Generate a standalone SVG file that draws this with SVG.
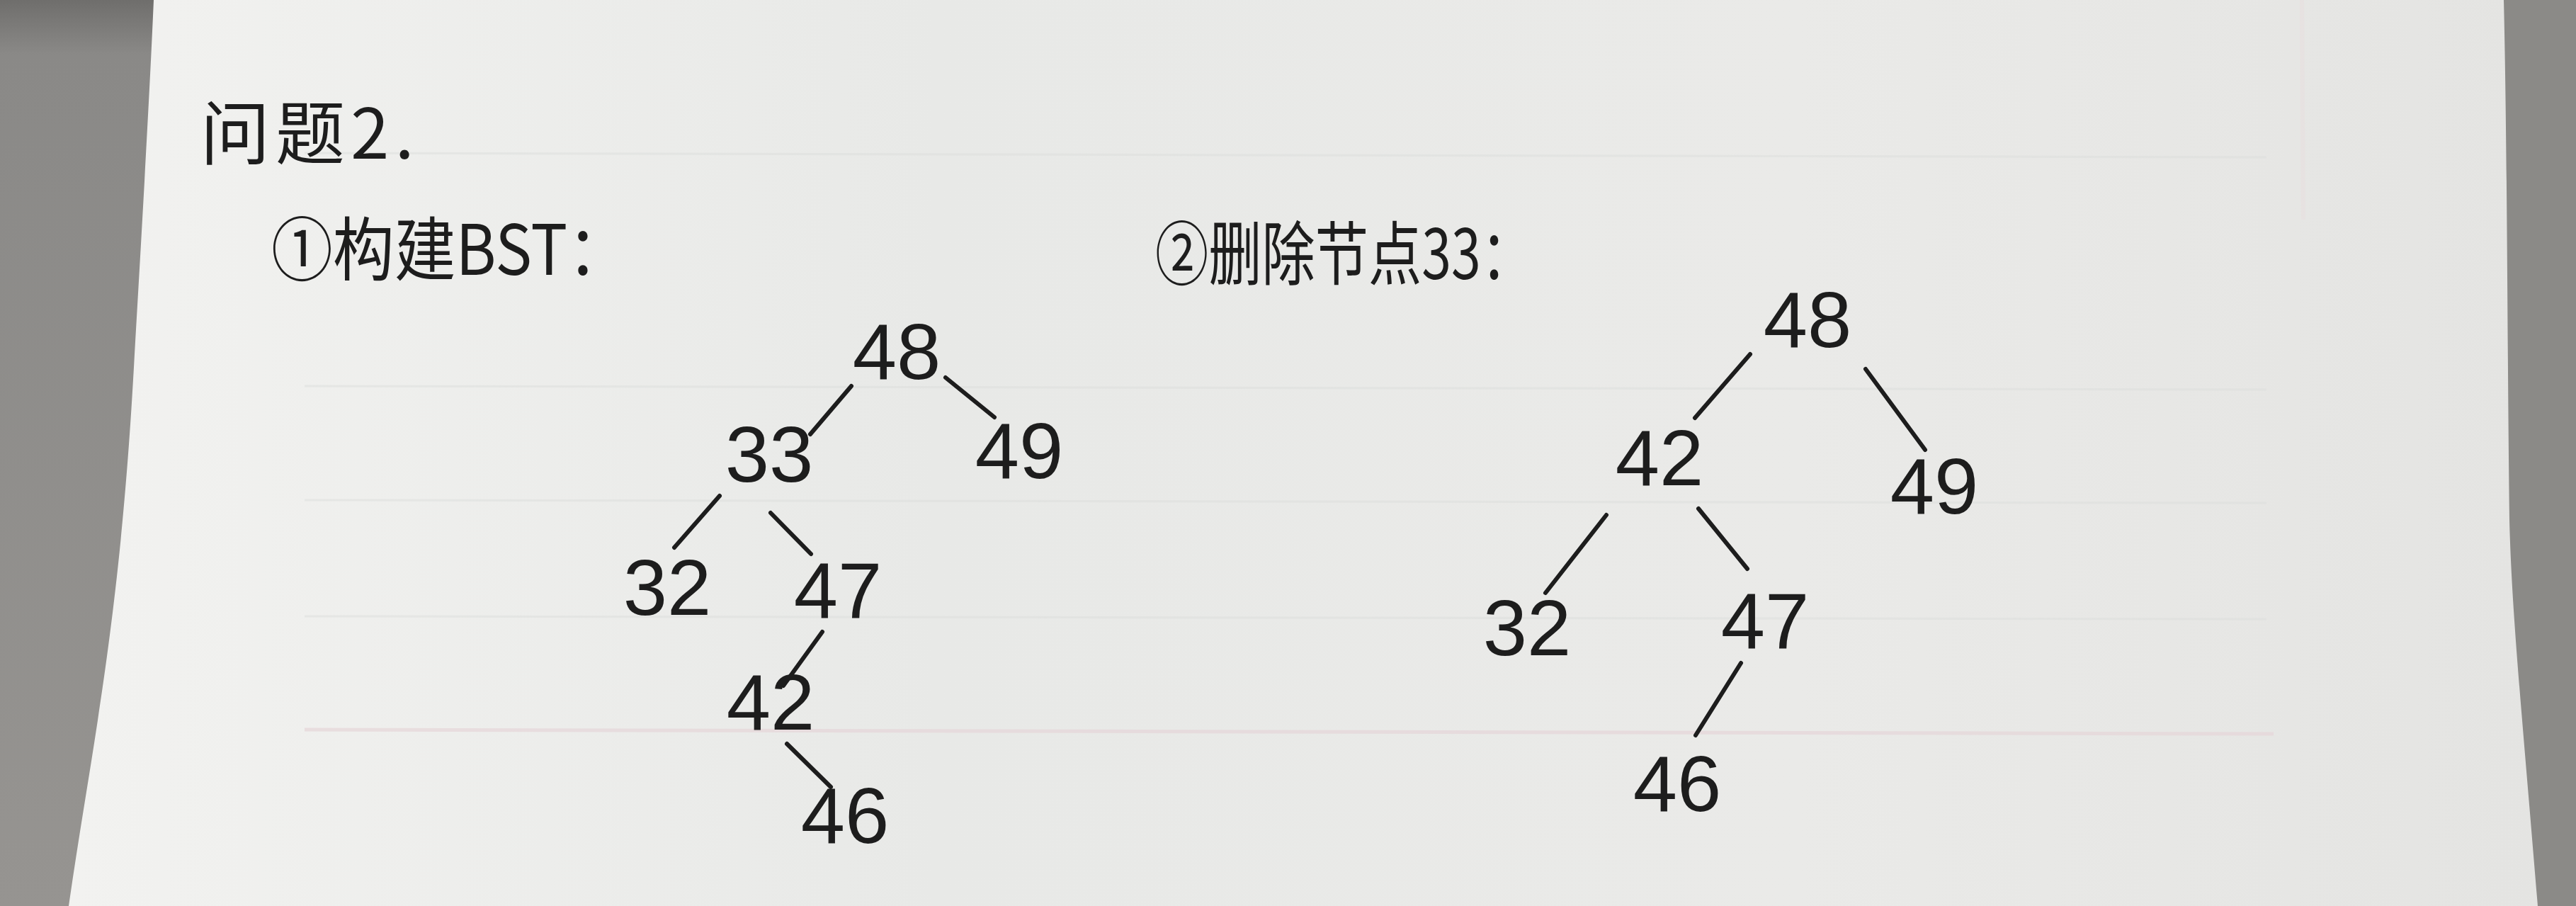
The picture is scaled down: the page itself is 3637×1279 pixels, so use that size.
<svg xmlns="http://www.w3.org/2000/svg" width="3637" height="1279" viewBox="0 0 3637 1279">
<defs>
<linearGradient id="paper" x1="0" y1="0" x2="1" y2="0">
<stop offset="0" stop-color="#f2f2f0"/>
<stop offset="0.35" stop-color="#e8e9e7"/>
<stop offset="0.7" stop-color="#eaeae8"/>
<stop offset="1" stop-color="#e4e4e2"/>
</linearGradient>
<linearGradient id="bgl" x1="0" y1="0" x2="0" y2="1">
<stop offset="0" stop-color="#6f6e6c"/>
<stop offset="0.06" stop-color="#8a8987"/>
<stop offset="1" stop-color="#969491"/>
</linearGradient>
<style>
.num{font-family:"Liberation Sans","DejaVu Sans",sans-serif;font-size:112px;fill:#1d1d1d;text-anchor:middle}
.ttl{font-family:"Noto Sans CJK SC","Noto Sans",sans-serif;font-size:98px;fill:#1d1d1d}
.edge{stroke:#1d1d1d;stroke-width:6;stroke-linecap:round;fill:none}
.rule{stroke:#dcdddb;stroke-width:3;fill:none;opacity:0.5}
</style>
</defs>
<rect x="0" y="0" width="3637" height="1279" fill="url(#bgl)"/>
<rect x="3500" y="0" width="137" height="1279" fill="#8b8a87"/>
<path d="M217,0 L3535,0 C3540,200 3540,500 3543,734 C3546,860 3560,1000 3583,1279 L97,1279 C130,1050 170,880 190,500 C200,330 212,120 217,0 Z" fill="url(#paper)"/>
<g id="ruling">
<line class="rule" x1="430" y1="216" x2="3200" y2="222"/>
<line class="rule" x1="430" y1="545" x2="3200" y2="550"/>
<line class="rule" x1="430" y1="706" x2="3200" y2="710"/>
<line class="rule" x1="430" y1="870" x2="3200" y2="874"/>
<line x1="430" y1="1030" x2="3210" y2="1036" stroke="#e6d6d9" stroke-width="5" opacity="0.7"/>
<line x1="3250" y1="0" x2="3252" y2="310" stroke="#e8e0e0" stroke-width="6" opacity="0.6"/>
</g>
<g id="title-q2"><text class="ttl" x="283" y="224" letter-spacing="8">问题2.</text></g>
<g id="title-1"><text class="ttl" x="383" y="388" textLength="505" lengthAdjust="spacingAndGlyphs">①构建BST：</text></g>
<g id="title-2"><text class="ttl" x="1631" y="394" textLength="535" lengthAdjust="spacingAndGlyphs">②删除节点33：</text></g>
<g id="connectors">
<line class="edge" x1="1202" y1="545" x2="1144" y2="613"/>
<line class="edge" x1="1335" y1="533" x2="1404" y2="589"/>
<line class="edge" x1="1016" y1="700" x2="952" y2="773"/>
<line class="edge" x1="1088" y1="724" x2="1145" y2="782"/>
<line class="edge" x1="1161" y1="892" x2="1106" y2="968"/>
<line class="edge" x1="1111" y1="1050" x2="1173" y2="1111"/>
<line class="edge" x1="2471" y1="500" x2="2393" y2="590"/>
<line class="edge" x1="2634" y1="521" x2="2718" y2="635"/>
<line class="edge" x1="2268" y1="727" x2="2182" y2="837"/>
<line class="edge" x1="2398" y1="718" x2="2467" y2="803"/>
<line class="edge" x1="2458" y1="936" x2="2394" y2="1038"/>
</g>
<g id="t1-48"><text class="num" x="1266" y="535">48</text></g>
<g id="t1-33"><text class="num" x="1086" y="680">33</text></g>
<g id="t1-49"><text class="num" x="1439" y="675">49</text></g>
<g id="t1-32"><text class="num" x="942" y="868">32</text></g>
<g id="t1-47"><text class="num" x="1183" y="872">47</text></g>
<g id="t1-42"><text class="num" x="1088" y="1030">42</text></g>
<g id="t1-46"><text class="num" x="1193" y="1190">46</text></g>
<g id="t2-48"><text class="num" x="2552" y="490">48</text></g>
<g id="t2-42"><text class="num" x="2343" y="685">42</text></g>
<g id="t2-49"><text class="num" x="2731" y="725">49</text></g>
<g id="t2-32"><text class="num" x="2156" y="925">32</text></g>
<g id="t2-47"><text class="num" x="2492" y="915">47</text></g>
<g id="t2-46"><text class="num" x="2368" y="1145">46</text></g>
</svg>
